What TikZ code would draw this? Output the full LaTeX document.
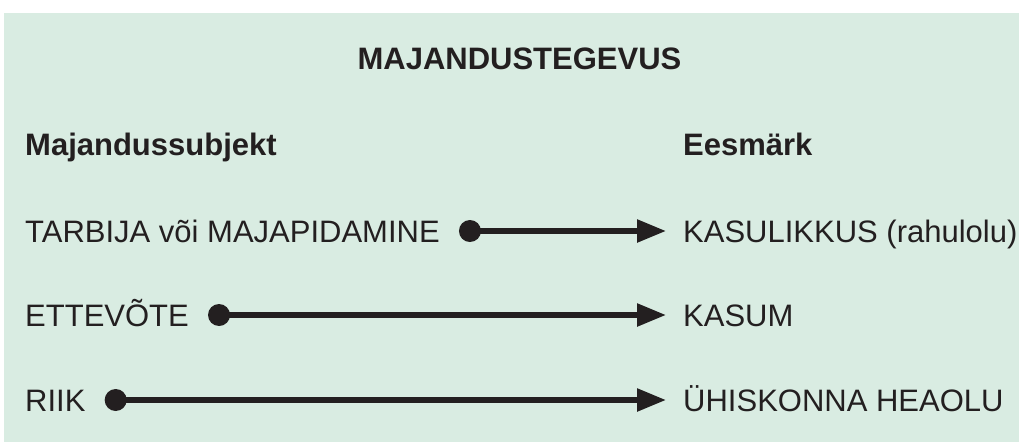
\documentclass[tikz,border=0pt]{standalone}
\usepackage{fontspec}
\setmainfont{Liberation Sans}
\usetikzlibrary{arrows.meta}
\definecolor{panel}{HTML}{D9ECE2}
\definecolor{ink}{HTML}{231F20}
\begin{document}
\begin{tikzpicture}[x=1pt,y=-1pt,
  heading/.style={font=\fontsize{31}{36}\selectfont\bfseries, text=ink, inner sep=0pt},
  item/.style={font=\fontsize{31}{36}\selectfont, text=ink, inner sep=0pt, anchor=base west},
  link/.style={draw=ink, line width=5.5pt, -{Triangle[length=29pt,width=22pt]}},
  dotmark/.style={circle, fill=ink, minimum size=22pt, inner sep=0pt}]
% page and panel
\fill[white] (0,0) rectangle (1019,442);
\fill[panel] (4,13) rectangle (1019,442);
\useasboundingbox (0,0) rectangle (1019,442);
% headings
\node[heading, anchor=base] (title) at (519.5,69) {MAJANDUSTEGEVUS};
\node[heading, anchor=base west] (subj) at (25,155) {Majandussubjekt};
\node[heading, anchor=base west] (goal) at (683,155) {Eesmärk};
% subjects and goals
\node[item] (s1) at (25,242) {TARBIJA või MAJAPIDAMINE};
\node[item] (s2) at (25,326) {ETTEVÕTE};
\node[item] (s3) at (25,411) {RIIK};
\node[item] (t1) at (683,242) {KASULIKKUS (rahulolu)};
\node[item] (t2) at (683,326) {KASUM};
\node[item] (t3) at (683,411) {ÜHISKONNA HEAOLU};
% connectors: dot at the subject, arrow to the goal
\foreach \i in {1,2,3}{
  \path (s\i.base east) ++(30,-11) node[dotmark] (d\i) {};
  \coordinate (e\i) at ([xshift=-17pt,yshift=11pt]t\i.base west);
  \draw[link] (d\i.center) -- (e\i);
}
\end{tikzpicture}
\end{document}
